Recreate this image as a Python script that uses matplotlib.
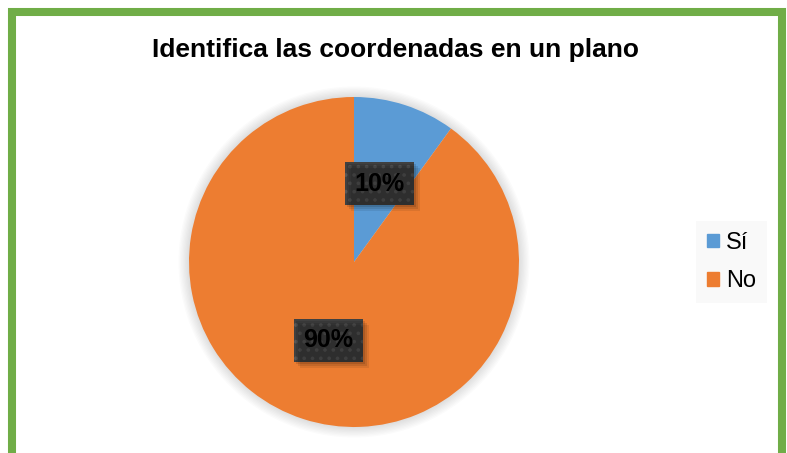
import matplotlib.pyplot as plt
import matplotlib.patches as mpatches

plt.rcParams['font.family'] = ['Liberation Sans', 'DejaVu Sans']
plt.rcParams['hatch.linewidth'] = 1.5

labels = ['Sí', 'No']
values = [10, 90]
colors = ['#5B9BD5', '#ED7D31']

W, H = 787, 453
fig = plt.figure(figsize=(W / 100, H / 100), dpi=100)

# green frame (bottom runs off the picture)
fig.patches.append(mpatches.Rectangle((12 / W, -0.05), 770 / W, (H - 12) / H + 0.05,
                                      transform=fig.transFigure, fill=False,
                                      edgecolor='#70AD47', linewidth=5.8))

fig.text(396 / W, 1 - 50 / H, 'Identifica las coordenadas en un plano',
         ha='center', va='center', fontsize=19, fontweight='bold')

cx, cy, r = 354, H - 262, 165
ax = fig.add_axes([(cx - r) / W, (cy - r) / H, 2 * r / W, 2 * r / H])
# soft glow around the pie
for k in range(8):
    ax.add_patch(mpatches.Circle((0, 0), 1.0 + 0.008 * (k + 1), facecolor='#000000',
                                 alpha=0.014, linewidth=0, zorder=0, clip_on=False))
wedges, texts, autotexts = ax.pie(values, colors=colors, startangle=90, counterclock=False,
                                  autopct='%1.0f%%', pctdistance=0.5,
                                  wedgeprops=dict(linewidth=0))
ax.set_xlim(-1, 1)
ax.set_ylim(-1, 1)
ax.set_aspect('equal')
ax.axis('off')
for t in autotexts:
    t.set_fontsize(18)
    t.set_fontweight('bold')
    t.set_color('black')
    t.set_zorder(5)
    t.set_bbox(dict(boxstyle='square,pad=0.37', facecolor='#404040', edgecolor='#575757',
                    linewidth=0, hatch='..'))

fig.canvas.draw()
for t in autotexts:
    bb = t.get_bbox_patch().get_window_extent()
    for k, a in enumerate([0.12, 0.1, 0.08]):
        d = 2 + 2 * k
        fig.patches.append(mpatches.Rectangle((bb.x0 + d, bb.y0 - d), bb.width, bb.height,
                                              transform=None, facecolor='#000000',
                                              alpha=a, linewidth=0, zorder=0.5))

handles = [mpatches.Patch(color=c) for c in colors]
leg = fig.legend(handles, labels, loc='center', bbox_to_anchor=(731.5 / W, 1 - 262 / H),
                 fontsize=17, frameon=True, fancybox=False, handlelength=0.5,
                 handleheight=0.5, handletextpad=0.3, labelspacing=0.7, borderpad=0.45)
leg.get_frame().set_facecolor('#F8F8F8')
leg.get_frame().set_linewidth(0)

fig.savefig('out.png', dpi=100)
